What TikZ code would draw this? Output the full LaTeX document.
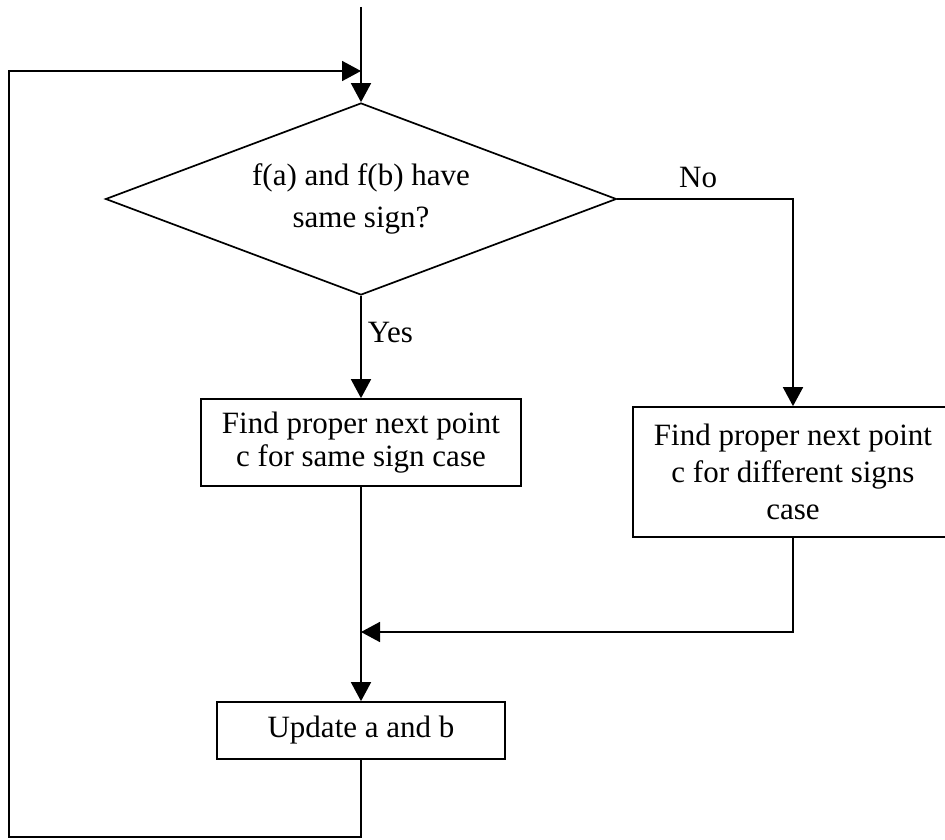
\documentclass[tikz,border=0pt]{standalone}
\usepackage{fontspec}
\setmainfont{Liberation Serif}
\usetikzlibrary{shapes.geometric,arrows.meta}
\begin{document}
\begin{tikzpicture}[x=1pt,y=-1pt,
  every node/.style={font=\fontsize{31}{35}\selectfont},
  line/.style={line width=1.7pt},
  arr/.style={line, -{Triangle[width=20pt,length=19pt]}},
  boxnode/.style={draw, line width=1.7pt, rectangle, align=center, inner sep=0pt},
  decision/.style={draw, line width=1.7pt, diamond, aspect=2.66, align=center, inner sep=0pt},
  lbl/.style={inner sep=0pt}]
\useasboundingbox (0,0) rectangle (945,840);

\node[decision, minimum width=511pt, minimum height=192pt,
      font=\fontsize{31}{42}\selectfont] (dec) at (361,199)
  {f(a) and f(b) have\\same sign?};
\node[boxnode, minimum width=320pt, minimum height=87pt,
      font=\fontsize{31}{33}\selectfont] (same) at (361,442.5)
  {Find proper next point\\c for same sign case};
\node[boxnode, minimum width=320pt, minimum height=130pt,
      font=\fontsize{31}{37}\selectfont] (diff) at (793,472)
  {Find proper next point\\c for different signs\\case};
\node[boxnode, minimum width=288pt, minimum height=57pt] (upd) at (361,730.5)
  {Update a and b};

\coordinate (top) at (361,7);
\coordinate (join) at (361,632);
\coordinate (c1) at (9,837);
\coordinate (c3) at (361,71);

\draw[arr] (top) -- (dec.north);
\draw[arr] (dec.south) -- node[lbl, pos=0.36, anchor=west, xshift=6pt] {Yes} (same.north);
\draw[arr] (dec.east) -| node[lbl, pos=0.23, anchor=south, yshift=10pt] {No} (diff.north);
\draw[arr] (same.south) -- (upd.north);
\draw[arr] (diff.south) |- (join);
\draw[arr] (upd.south) |- (c1) |- (c3);
\end{tikzpicture}
\end{document}
